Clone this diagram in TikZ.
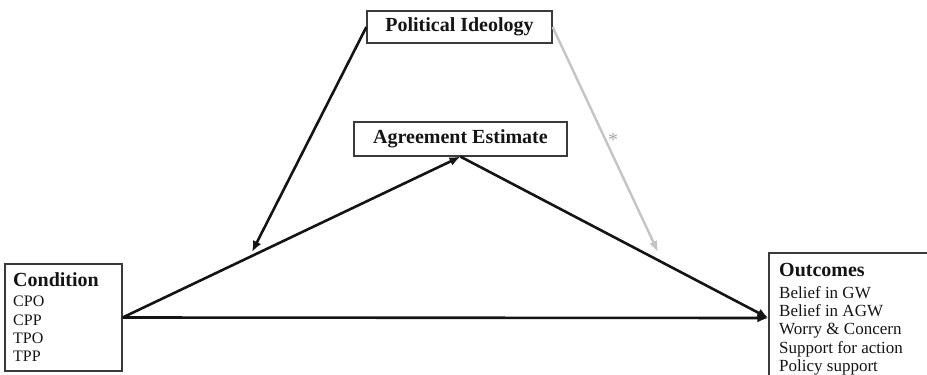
\documentclass[tikz,border=0pt]{standalone}
\usepackage{fontspec}
\setmainfont{Liberation Serif}
\usetikzlibrary{arrows.meta}
\definecolor{txt}{HTML}{141414}
\definecolor{lgray}{HTML}{C4C4C4}
\definecolor{boxline}{HTML}{3A3A3A}
\begin{document}
\begin{tikzpicture}[x=1pt,y=-1pt,
  box/.style={draw=boxline, line width=1.3pt, inner sep=0pt, text=txt},
  ttlfont/.style={font=\fontsize{20}{22}\selectfont\bfseries},
  ttl/.style={ttlfont, text=txt, inner sep=0pt, anchor=base west},
  item/.style={font=\fontsize{16}{18}\selectfont, text=txt, inner sep=0pt, anchor=base west},
  oitem/.style={item, font=\fontsize{17}{18}\selectfont},
  conn/.style={line width=2.6pt, draw=txt, -{Latex[length=11pt,width=9pt]}},
  modconn/.style={line width=2.4pt, draw=lgray, -{Latex[length=11pt,width=9pt]}},
  sig/.style={font=\fontsize{20}{22}\selectfont, text=lgray!85!black, inner sep=0pt}]
\path[use as bounding box] (0,0) rectangle (927,375);
\clip (0,0) rectangle (927,375);

% boxes
\node[box, ttlfont, minimum width=185pt, minimum height=32pt] (pi) at (459.5,27) {Political Ideology};
\node[box, ttlfont, minimum width=213pt, minimum height=34pt] (ae) at (460.5,139) {Agreement Estimate};
\node[box, minimum width=117pt, minimum height=107pt] (cond) at (63.5,317.5) {};
\node[box, minimum width=200pt, minimum height=130pt] (out) at (869,318) {};

% condition text
\node[ttl] (condt) at (13,286) {Condition};
\node[item] (c1) at (13,306.7) {CPO};
\node[item] (c2) at (13,325) {CPP};
\node[item] (c3) at (13,343.3) {TPO};
\node[item] (c4) at (13,361.6) {TPP};

% outcomes text
\node[ttl] (outt) at (779,276.7) {Outcomes};
\node[oitem] (o1) at (779,298.3) {Belief in GW};
\node[oitem] (o2) at (779,316.6) {Belief in AGW};
\node[oitem] (o3) at (779,334.9) {Worry \& Concern};
\node[oitem] (o4) at (779,353.2) {Support for action};
\node[oitem] (o5) at (779,371.5) {Policy support};

% moderation targets
\coordinate (m1) at (252,252);
\coordinate (m2) at (658,252);

% connectors
\draw[conn] (cond.east) -- (out.west);
\draw[conn] (cond.east) -- (ae.south);
\draw[conn] (ae.south) -- (out.west);
\draw[conn] (pi.west) -- (m1);
\draw[modconn] (pi.east) -- (m2);
\node[sig] (star) at (613,140) {*};
\end{tikzpicture}
\end{document}
